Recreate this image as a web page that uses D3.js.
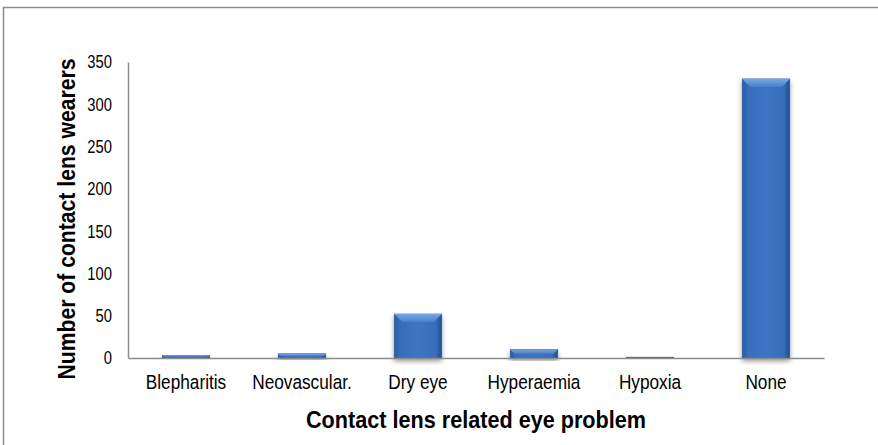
<!DOCTYPE html>
<html>
<head>
<meta charset="utf-8">
<script src="https://cdn.jsdelivr.net/npm/d3@7"></script>
<style>
  body { margin: 0; background: #fff; }
  svg { display: block; }
  text { font-family: "Liberation Sans", Arial, sans-serif; fill: #000; }
</style>
</head>
<body>
<svg id="chart" width="878" height="445"></svg>
<script>
const categories = ["Blepharitis", "Neovascular.", "Dry eye", "Hyperaemia", "Hypoxia", "None"];
const wearers = [3, 5, 52, 10, 1, 330];
const yTicks = [0, 50, 100, 150, 200, 250, 300, 350];

const margin = {top: 62, right: 54, bottom: 87, left: 128};
const width = 878, height = 445;

// squeeze text horizontally (reference uses a narrow face)
function narrow(sel, f) {
  sel.each(function() {
    const w = this.getComputedTextLength();
    d3.select(this).attr("textLength", w * f).attr("lengthAdjust", "spacingAndGlyphs");
  });
}

const svg = d3.select("#chart");

// outer frame
svg.append("rect")
  .attr("x", 3.5).attr("y", 7.5)
  .attr("width", 880).attr("height", 450)
  .attr("fill", "none").attr("stroke", "#8c8c8c").attr("stroke-width", 1.5);

const x = d3.scaleBand().domain(categories)
  .range([margin.left, width - margin.right])
  .paddingInner(0.59).paddingOuter(0.295);

const y = d3.scaleLinear().domain([0, 350]).range([height - margin.bottom, margin.top]);

const defs = svg.append("defs");
const grad = defs.append("linearGradient").attr("id", "barGrad").attr("x1", 0).attr("x2", 1).attr("y1", 0).attr("y2", 0);
grad.append("stop").attr("offset", "0%").attr("stop-color", "#2a5aa0");
grad.append("stop").attr("offset", "12%").attr("stop-color", "#376dbc");
grad.append("stop").attr("offset", "50%").attr("stop-color", "#3d75c4");
grad.append("stop").attr("offset", "88%").attr("stop-color", "#376dbc");
grad.append("stop").attr("offset", "100%").attr("stop-color", "#214b88");

const topGrad = defs.append("linearGradient").attr("id", "topGrad").attr("x1", 0).attr("x2", 0).attr("y1", 0).attr("y2", 1);
topGrad.append("stop").attr("offset", "0%").attr("stop-color", "#78a6e4");
topGrad.append("stop").attr("offset", "100%").attr("stop-color", "#477fcc");

const shadow = defs.append("filter").attr("id", "shadow").attr("x", "-30%").attr("y", "-30%").attr("width", "160%").attr("height", "160%");
shadow.append("feGaussianBlur").attr("in", "SourceAlpha").attr("stdDeviation", 2.5).attr("result", "b");
shadow.append("feOffset").attr("in", "b").attr("dy", 3).attr("result", "o");
shadow.append("feComponentTransfer").attr("in", "o").attr("result", "s")
  .append("feFuncA").attr("type", "linear").attr("slope", 0.4);
const mg = shadow.append("feMerge");
mg.append("feMergeNode").attr("in", "s");
mg.append("feMergeNode").attr("in", "SourceGraphic");

const data = categories.map((c, i) => ({cat: c, v: wearers[i]}));

const bars = svg.append("g").selectAll("g").data(data).join("g")
  .attr("filter", "url(#shadow)");

bars.append("rect")
  .attr("x", d => x(d.cat))
  .attr("y", d => y(d.v))
  .attr("width", x.bandwidth())
  .attr("height", d => y(0) - y(d.v))
  .attr("fill", "url(#barGrad)")
  .attr("stroke", "#2a5a9e").attr("stroke-width", 0.6);

// top bevel
bars.append("path")
  .attr("d", d => {
    const x0 = x(d.cat), x1 = x0 + x.bandwidth(), t = y(d.v);
    const h = Math.min(8, (y(0) - t) / 2);
    return `M${x0},${t}L${x1},${t}L${x1 - h},${t + h}L${x0 + h},${t + h}Z`;
  })
  .attr("fill", "url(#topGrad)");

// axes
const yAxis = d3.axisLeft(y).tickValues(yTicks).tickSize(0).tickPadding(16);
const gy = svg.append("g").attr("transform", `translate(${margin.left},0)`).call(yAxis);
gy.attr("font-family", null);
gy.select(".domain").attr("stroke", "#8c8c8c").attr("stroke-width", 1.5);
gy.selectAll(".tick text").style("font-size", "18.5px").call(narrow, 0.8);

const xAxis = d3.axisBottom(x).tickSize(0).tickPadding(16);
const gx = svg.append("g").attr("transform", `translate(0,${y(0)})`).call(xAxis);
gx.attr("font-family", null);
gx.select(".domain").attr("stroke", "#8c8c8c").attr("stroke-width", 1.5);
gx.selectAll(".tick text").style("font-size", "20.5px").call(narrow, 0.84);

// titles
svg.append("text")
  .attr("x", (margin.left + width - margin.right) / 2)
  .attr("y", 428)
  .attr("text-anchor", "middle")
  .style("font-weight", "bold").style("font-size", "23.5px")
  .text("Contact lens related eye problem")
  .call(narrow, 0.92);

svg.append("text")
  .attr("transform", `translate(75,219) rotate(-90)`)
  .attr("text-anchor", "middle")
  .style("font-weight", "bold").style("font-size", "23.5px")
  .text("Number of contact lens wearers")
  .call(narrow, 0.9);
</script>
</body>
</html>
